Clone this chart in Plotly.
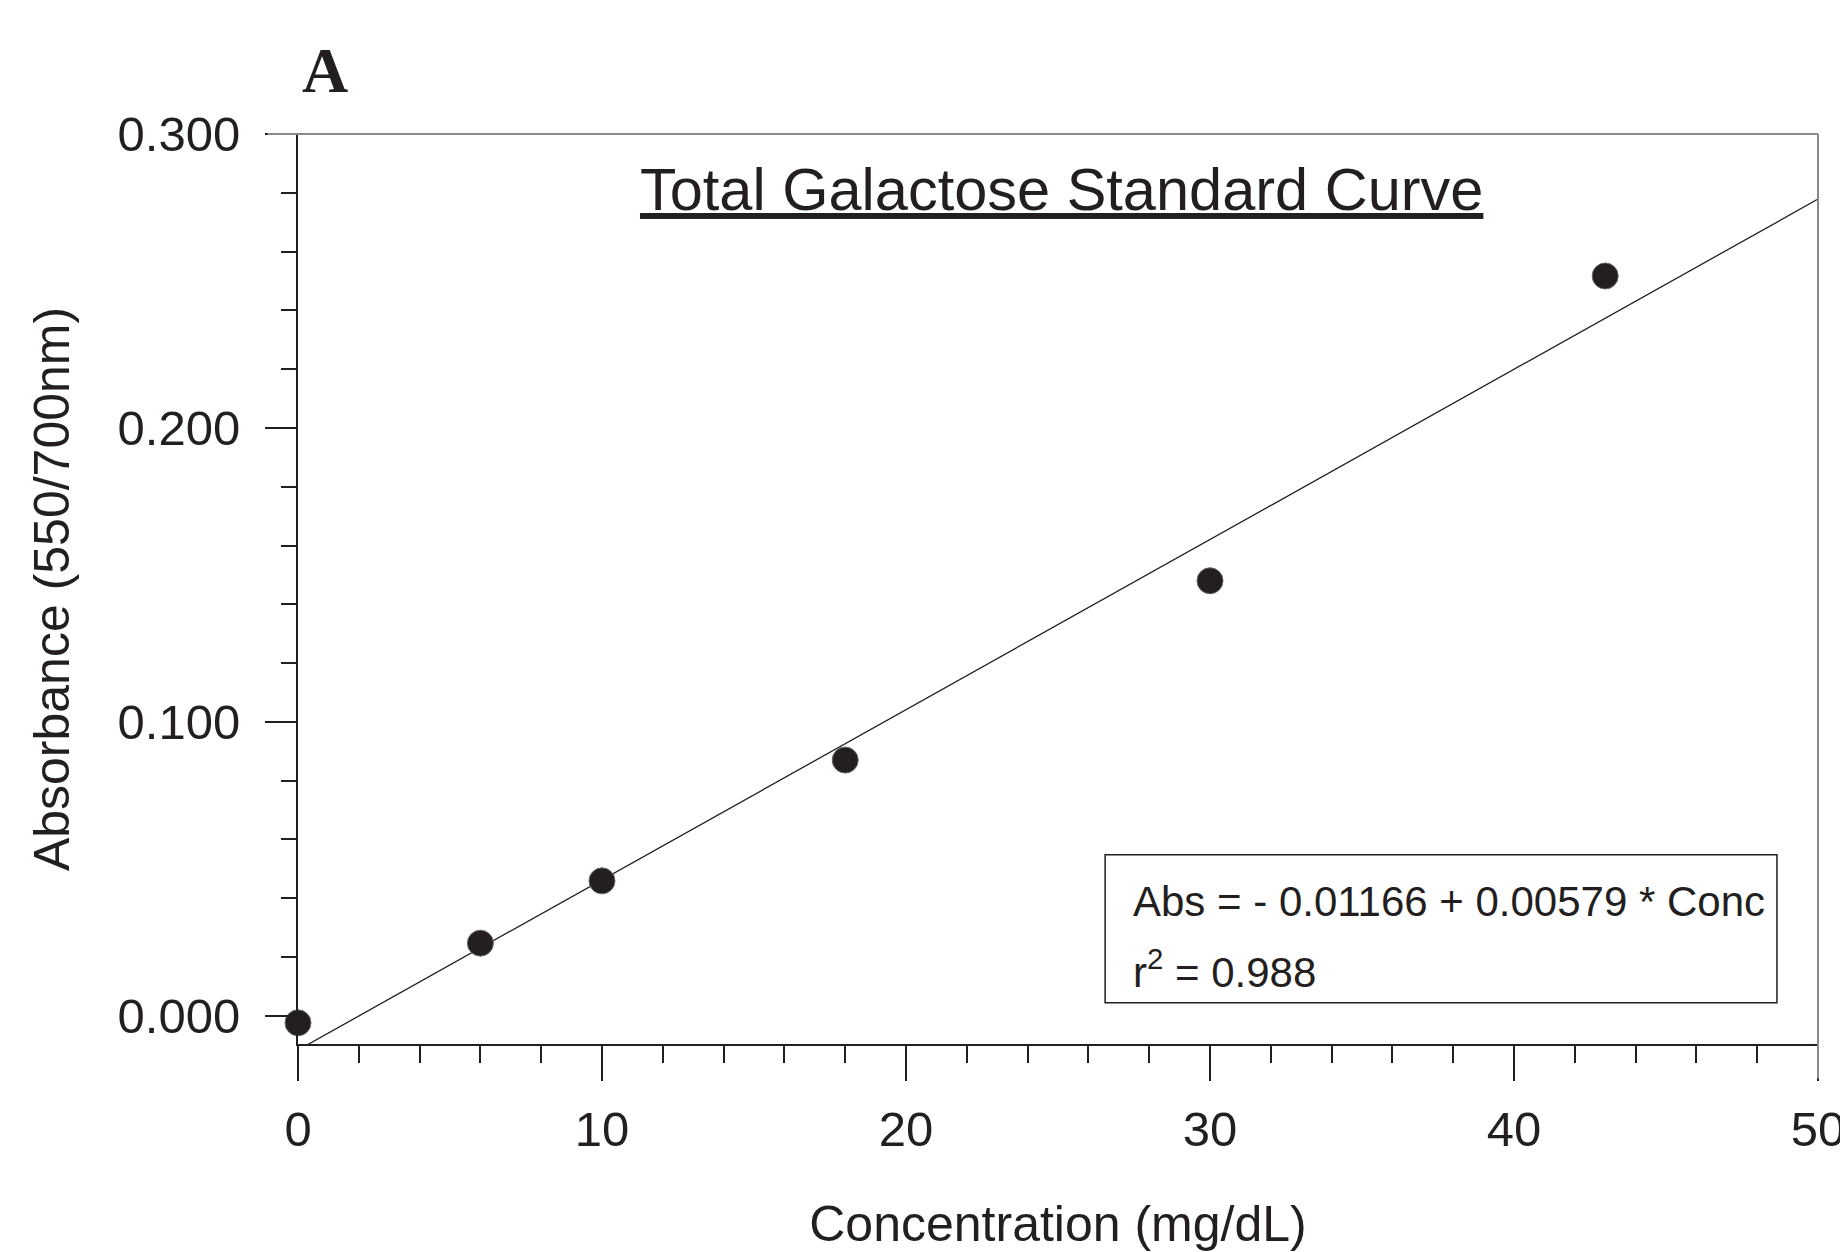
import plotly.graph_objects as go

# ---- data ----
conc = [0, 6, 10, 18, 30, 43]                       # mg/dL
absorbance = [-0.0024, 0.0247, 0.0459, 0.0870, 0.1480, 0.2517]
intercept = -0.01166
slope = 0.00579
r_squared = 0.988
fit_x = [0, 50]
fit_y = [intercept + slope * v for v in fit_x]

x_ticks = [0, 10, 20, 30, 40, 50]
y_ticks = [0.0, 0.1, 0.2, 0.3]

INK = "#231f20"
FONT = "Liberation Sans, Arial, sans-serif"

fig = go.Figure()
fig.add_trace(go.Scatter(x=fit_x, y=fit_y, mode="lines",
                         line=dict(color=INK, width=1.3), showlegend=False,
                         hoverinfo="skip"))
fig.add_trace(go.Scatter(x=conc, y=absorbance, mode="markers",
                         marker=dict(size=26, color=INK, line=dict(color="#666", width=1)),
                         cliponaxis=False, showlegend=False))

fig.update_layout(
    width=1840, height=1252,
    margin=dict(l=298, r=22, t=134, b=208, autoexpand=False),
    plot_bgcolor="white", paper_bgcolor="white",
    font=dict(family=FONT, color=INK, size=49),
    xaxis=dict(range=[0, 50], tickvals=x_ticks, ticktext=[str(v) for v in x_ticks],
               showgrid=False, zeroline=False, showline=True, linecolor=INK, linewidth=2,
               ticks="outside", ticklen=35, tickwidth=2, tickcolor=INK,
               ticklabelstandoff=6, ticklabeloverflow="allow", automargin=False,
               minor=dict(dtick=2, tick0=0, ticks="outside", ticklen=17, tickwidth=2,
                          tickcolor=INK, showgrid=False),
               tickfont=dict(size=49),
               title=dict(text="Concentration (mg/dL)", font=dict(size=50), standoff=53)),
    yaxis=dict(range=[-0.0096, 0.3], tickvals=y_ticks, tickformat=".3f",
               showgrid=False, zeroline=False, showline=True, linecolor=INK, linewidth=2,
               ticks="outside", ticklen=31, tickwidth=2, tickcolor=INK,
               ticklabelstandoff=15, ticklabeloverflow="allow", automargin=False,
               minor=dict(dtick=0.02, tick0=0, ticks="outside", ticklen=15, tickwidth=2,
                          tickcolor=INK, showgrid=False),
               tickfont=dict(size=49),
               title=dict(text="Absorbance (550/700nm)", font=dict(size=50), standoff=32)),
)

# top & right frame lines (grey)
fig.add_shape(type="line", xref="paper", yref="paper", x0=-0.02, x1=1, y0=1, y1=1,
              line=dict(color="#8a8a8a", width=2))
fig.add_shape(type="line", xref="paper", yref="paper", x0=1, x1=1, y0=-0.038, y1=1,
              line=dict(color="#8a8a8a", width=2))

# equation box
fig.add_shape(type="rect", xref="x", yref="y", x0=26.55, x1=48.65, y0=0.0044, y1=0.0548,
              line=dict(color=INK, width=1.5), fillcolor="white", layer="above")
fig.add_annotation(xref="x", yref="y", x=27.4, y=0.0390, xanchor="left", yanchor="middle",
                   text=f"Abs = - {abs(intercept):.5f} + {slope:.5f} * Conc",
                   showarrow=False, font=dict(size=42, color=INK, family=FONT))
fig.add_annotation(xref="x", yref="y", x=27.4, y=0.0160, xanchor="left", yanchor="middle",
                   text=f"r<sup>2</sup> = {r_squared:.3f}",
                   showarrow=False, font=dict(size=42, color=INK, family=FONT))

# chart title (underlined)
fig.add_annotation(xref="paper", yref="paper", x=0.502, y=0.9385, xanchor="center",
                   yanchor="middle", text="<u>Total Galactose Standard Curve</u>",
                   showarrow=False, font=dict(size=59.5, color=INK, family=FONT))

# panel label
fig.add_annotation(xref="paper", yref="paper", x=0.0178, y=1.0695, xanchor="center",
                   yanchor="middle", text="<b>A</b>", showarrow=False,
                   font=dict(size=64, color=INK, family="Liberation Serif, Times New Roman, serif"))

fig.write_html("out.html", config={"displayModeBar": False},
               post_script="document.body.style.margin='0';")
